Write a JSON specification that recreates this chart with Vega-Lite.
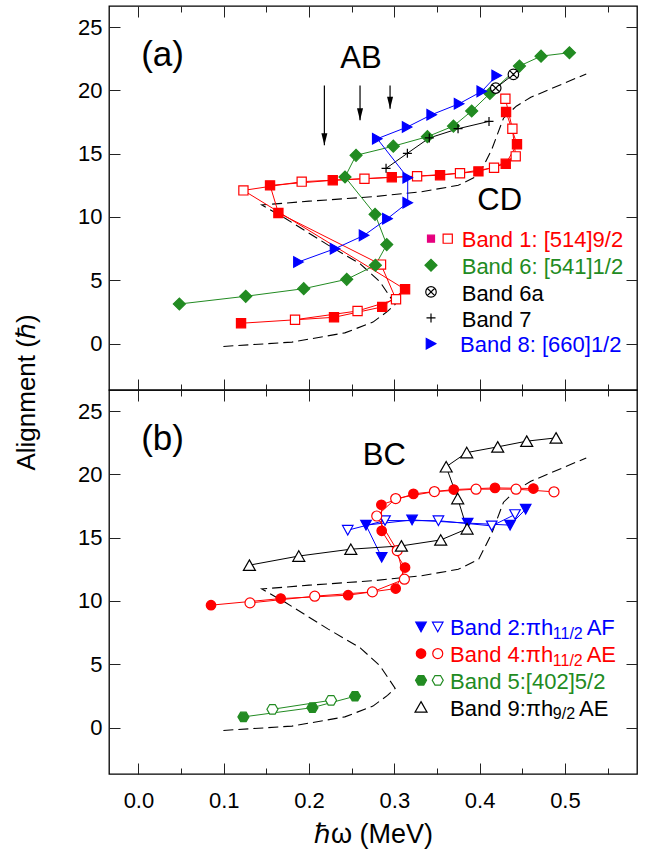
{
"$schema": "https://vega.github.io/schema/vega-lite/v6.json",
"padding": {"left": 12, "top": 4, "right": 4, "bottom": 4},
"spacing": 0,
"bounds": "flush",
"config": {
  "view": {"stroke": "#000", "strokeWidth": 1.3},
  "axis": {"grid": false, "domain": false, "tickColor": "#222", "tickWidth": 1, "labelFont": "Liberation Sans", "labelFontSize": 22, "labelColor": "#000", "labelFlush": false, "labelOverlap": false, "titleFont": "Liberation Sans", "titleFontSize": 26, "titleFontWeight": "normal", "titleColor": "#000"},
  "text": {"font": "Liberation Sans"}
},
"datasets": {
  "ref": [
    {"o":1,"x":0.0996,"y":-0.22},{"o":2,"x":0.18,"y":0.12},{"o":3,"x":0.242,"y":0.85},{"o":4,"x":0.275,"y":1.7},{"o":5,"x":0.292,"y":2.55},{"o":6,"x":0.301,"y":3.1},{"o":7,"x":0.283,"y":4.9},{"o":8,"x":0.26,"y":6.3},{"o":9,"x":0.222,"y":7.8},{"o":10,"x":0.172,"y":9.9},{"o":11,"x":0.1446,"y":10.95},{"o":12,"x":0.2,"y":11.25},{"o":13,"x":0.275,"y":11.6},{"o":14,"x":0.332,"y":12.0},{"o":15,"x":0.375,"y":12.5},{"o":16,"x":0.399,"y":13.3},{"o":17,"x":0.414,"y":15.3},{"o":18,"x":0.428,"y":17.8},{"o":19,"x":0.443,"y":18.75},{"o":20,"x":0.46,"y":19.45},{"o":21,"x":0.525,"y":21.3}
  ],
  "pts": [
    {"p":"a","b":"b1","s":"b1f","q":"a1A","o":1,"x":0.1203,"y":1.61},
    {"p":"a","b":"b1","s":"b1f","q":"a1A","o":2,"x":0.2293,"y":2.08},
    {"p":"a","b":"b1","s":"b1f","q":"a1A","o":3,"x":0.2858,"y":2.9},
    {"p":"a","b":"b1","s":"b1f","q":"a1A","o":4,"x":0.3126,"y":4.29},
    {"p":"a","b":"b1","s":"b1o","q":"a1A","o":5,"x":0.1231,"y":12.1},
    {"p":"a","b":"b1","s":"b1o","q":"a1A","o":6,"x":0.1914,"y":12.79},
    {"p":"a","b":"b1","s":"b1o","q":"a1A","o":7,"x":0.265,"y":13.02},
    {"p":"a","b":"b1","s":"b1o","q":"a1A","o":8,"x":0.3267,"y":13.22},
    {"p":"a","b":"b1","s":"b1o","q":"a1A","o":9,"x":0.377,"y":13.46},
    {"p":"a","b":"b1","s":"b1o","q":"a1A","o":10,"x":0.4169,"y":13.89},
    {"p":"a","b":"b1","s":"b1o","q":"a1A","o":11,"x":0.4423,"y":14.79},
    {"p":"a","b":"b1","s":"b1o","q":"a1A","o":12,"x":0.4384,"y":16.97},
    {"p":"a","b":"b1","s":"b1o","q":"a1A","o":13,"x":0.4302,"y":19.34},
    {"p":"a","b":"b1","s":"b1o","q":"a1B","o":1,"x":0.1836,"y":1.89},
    {"p":"a","b":"b1","s":"b1o","q":"a1B","o":2,"x":0.2569,"y":2.58},
    {"p":"a","b":"b1","s":"b1o","q":"a1B","o":3,"x":0.302,"y":3.5},
    {"p":"a","b":"b1","s":"b1o","q":"a1B","o":4,"x":0.2844,"y":6.24},
    {"p":"a","b":"b1","s":"b1f","q":"a1B","o":5,"x":0.1641,"y":10.32},
    {"p":"a","b":"b1","s":"b1f","q":"a1B","o":6,"x":0.1543,"y":12.5},
    {"p":"a","b":"b1","s":"b1f","q":"a1B","o":7,"x":0.2278,"y":12.9},
    {"p":"a","b":"b1","s":"b1f","q":"a1B","o":8,"x":0.297,"y":13.14},
    {"p":"a","b":"b1","s":"b1f","q":"a1B","o":9,"x":0.3536,"y":13.3},
    {"p":"a","b":"b1","s":"b1f","q":"a1B","o":10,"x":0.3986,"y":13.6},
    {"p":"a","b":"b1","s":"b1f","q":"a1B","o":11,"x":0.4306,"y":14.2},
    {"p":"a","b":"b1","s":"b1f","q":"a1B","o":12,"x":0.4438,"y":15.74},
    {"p":"a","b":"b1","s":"b1f","q":"a1B","o":13,"x":0.431,"y":18.29},
    {"p":"a","b":"b6","s":"b6","q":"a6","o":1,"x":0.048,"y":3.13},
    {"p":"a","b":"b6","s":"b6","q":"a6","o":2,"x":0.1258,"y":3.74},
    {"p":"a","b":"b6","s":"b6","q":"a6","o":3,"x":0.1938,"y":4.34},
    {"p":"a","b":"b6","s":"b6","q":"a6","o":4,"x":0.2442,"y":5.08},
    {"p":"a","b":"b6","s":"b6","q":"a6","o":5,"x":0.2778,"y":6.19},
    {"p":"a","b":"b6","s":"b6","q":"a6","o":6,"x":0.2911,"y":7.82},
    {"p":"a","b":"b6","s":"b6","q":"a6","o":7,"x":0.2774,"y":10.21},
    {"p":"a","b":"b6","s":"b6","q":"a6","o":8,"x":0.2422,"y":13.16},
    {"p":"a","b":"b6","s":"b6","q":"a6","o":9,"x":0.2551,"y":14.87},
    {"p":"a","b":"b6","s":"b6","q":"a6","o":10,"x":0.2988,"y":15.59},
    {"p":"a","b":"b6","s":"b6","q":"a6","o":11,"x":0.3388,"y":16.34},
    {"p":"a","b":"b6","s":"b6","q":"a6","o":12,"x":0.3693,"y":17.18},
    {"p":"a","b":"b6","s":"b6","q":"a6","o":13,"x":0.3907,"y":18.37},
    {"p":"a","b":"b6","s":"b6","q":"a6","o":14,"x":0.412,"y":19.75},
    {"p":"a","b":"b6","s":"b6","q":"a6","o":15,"x":0.4467,"y":21.92},
    {"p":"a","b":"b6","s":"b6","q":"a6","o":16,"x":0.472,"y":22.7},
    {"p":"a","b":"b6","s":"b6","q":"a6","o":17,"x":0.5053,"y":22.97},
    {"p":"a","b":"b6a","s":"b6a","q":"a6a","o":1,"x":0.4189,"y":20.18},
    {"p":"a","b":"b6a","s":"b6a","q":"a6a","o":2,"x":0.4396,"y":21.26},
    {"p":"a","b":"b7","s":"b7","q":"a7","o":1,"x":0.2903,"y":13.84},
    {"p":"a","b":"b7","s":"b7","q":"a7","o":2,"x":0.3153,"y":15.03},
    {"p":"a","b":"b7","s":"b7","q":"a7","o":3,"x":0.341,"y":16.24},
    {"p":"a","b":"b7","s":"b7","q":"a7","o":4,"x":0.3747,"y":16.97},
    {"p":"a","b":"b7","s":"b7","q":"a7","o":5,"x":0.411,"y":17.55},
    {"p":"a","b":"b8","s":"b8","q":"a8","o":1,"x":0.1876,"y":6.45},
    {"p":"a","b":"b8","s":"b8","q":"a8","o":2,"x":0.2305,"y":7.5},
    {"p":"a","b":"b8","s":"b8","q":"a8","o":3,"x":0.2645,"y":8.55},
    {"p":"a","b":"b8","s":"b8","q":"a8","o":4,"x":0.2919,"y":9.87},
    {"p":"a","b":"b8","s":"b8","q":"a8","o":5,"x":0.3157,"y":11.13},
    {"p":"a","b":"b8","s":"b8","q":"a8","o":6,"x":0.3157,"y":13.1},
    {"p":"a","b":"b8","s":"b8","q":"a8","o":7,"x":0.28,"y":16.18},
    {"p":"a","b":"b8","s":"b8","q":"a8","o":8,"x":0.315,"y":17.1},
    {"p":"a","b":"b8","s":"b8","q":"a8","o":9,"x":0.3438,"y":18.08},
    {"p":"a","b":"b8","s":"b8","q":"a8","o":10,"x":0.3759,"y":18.94},
    {"p":"a","b":"b8","s":"b8","q":"a8","o":11,"x":0.4025,"y":19.92},
    {"p":"a","b":"b8","s":"b8","q":"a8","o":12,"x":0.42,"y":21.18},
    {"p":"b","b":"b2","s":"b2f","q":"b2F","o":1,"x":0.2852,"y":13.45},
    {"p":"b","b":"b2","s":"b2f","q":"b2F","o":2,"x":0.2668,"y":15.99},
    {"p":"b","b":"b2","s":"b2f","q":"b2F","o":3,"x":0.3208,"y":16.4},
    {"p":"b","b":"b2","s":"b2f","q":"b2F","o":4,"x":0.386,"y":16.15},
    {"p":"b","b":"b2","s":"b2f","q":"b2F","o":5,"x":0.4357,"y":15.99},
    {"p":"b","b":"b2","s":"b2f","q":"b2F","o":6,"x":0.454,"y":17.25},
    {"p":"b","b":"b2","s":"b2o","q":"b2O","o":1,"x":0.2454,"y":15.59},
    {"p":"b","b":"b2","s":"b2o","q":"b2O","o":2,"x":0.2891,"y":16.35},
    {"p":"b","b":"b2","s":"b2o","q":"b2O","o":3,"x":0.3517,"y":16.34},
    {"p":"b","b":"b2","s":"b2o","q":"b2O","o":4,"x":0.4142,"y":15.93},
    {"p":"b","b":"b2","s":"b2o","q":"b2O","o":5,"x":0.4415,"y":16.83},
    {"p":"b","b":"b4","s":"b4f","q":"b4F","o":1,"x":0.0851,"y":9.67},
    {"p":"b","b":"b4","s":"b4f","q":"b4F","o":2,"x":0.1668,"y":10.19},
    {"p":"b","b":"b4","s":"b4f","q":"b4F","o":3,"x":0.2458,"y":10.46},
    {"p":"b","b":"b4","s":"b4f","q":"b4F","o":4,"x":0.3016,"y":10.98},
    {"p":"b","b":"b4","s":"b4f","q":"b4F","o":5,"x":0.3126,"y":12.64},
    {"p":"b","b":"b4","s":"b4f","q":"b4F","o":6,"x":0.2852,"y":15.54},
    {"p":"b","b":"b4","s":"b4f","q":"b4F","o":7,"x":0.2848,"y":17.6},
    {"p":"b","b":"b4","s":"b4f","q":"b4F","o":8,"x":0.3224,"y":18.46},
    {"p":"b","b":"b4","s":"b4f","q":"b4F","o":9,"x":0.3697,"y":18.8},
    {"p":"b","b":"b4","s":"b4f","q":"b4F","o":10,"x":0.418,"y":18.93},
    {"p":"b","b":"b4","s":"b4f","q":"b4F","o":11,"x":0.463,"y":18.88},
    {"p":"b","b":"b4","s":"b4o","q":"b4O","o":1,"x":0.1308,"y":9.85},
    {"p":"b","b":"b4","s":"b4o","q":"b4O","o":2,"x":0.2067,"y":10.38},
    {"p":"b","b":"b4","s":"b4o","q":"b4O","o":3,"x":0.2743,"y":10.72},
    {"p":"b","b":"b4","s":"b4o","q":"b4O","o":4,"x":0.3118,"y":11.72},
    {"p":"b","b":"b4","s":"b4o","q":"b4O","o":5,"x":0.3034,"y":13.98},
    {"p":"b","b":"b4","s":"b4o","q":"b4O","o":6,"x":0.2794,"y":16.71},
    {"p":"b","b":"b4","s":"b4o","q":"b4O","o":7,"x":0.3016,"y":18.09},
    {"p":"b","b":"b4","s":"b4o","q":"b4O","o":8,"x":0.347,"y":18.64},
    {"p":"b","b":"b4","s":"b4o","q":"b4O","o":9,"x":0.3958,"y":18.83},
    {"p":"b","b":"b4","s":"b4o","q":"b4O","o":10,"x":0.4427,"y":18.83},
    {"p":"b","b":"b4","s":"b4o","q":"b4O","o":11,"x":0.4872,"y":18.62},
    {"p":"b","b":"b5","s":"b5f","q":"b5F","o":1,"x":0.1231,"y":0.85},
    {"p":"b","b":"b5","s":"b5f","q":"b5F","o":2,"x":0.204,"y":1.58},
    {"p":"b","b":"b5","s":"b5f","q":"b5F","o":3,"x":0.2539,"y":2.48},
    {"p":"b","b":"b5","s":"b5o","q":"b5O","o":1,"x":0.1571,"y":1.45},
    {"p":"b","b":"b5","s":"b5o","q":"b5O","o":2,"x":0.2258,"y":2.16},
    {"p":"b","b":"b9","s":"b9","q":"b9","o":1,"x":0.1301,"y":12.83},
    {"p":"b","b":"b9","s":"b9","q":"b9","o":2,"x":0.188,"y":13.55},
    {"p":"b","b":"b9","s":"b9","q":"b9","o":3,"x":0.249,"y":14.09},
    {"p":"b","b":"b9","s":"b9","q":"b9","o":4,"x":0.3083,"y":14.35},
    {"p":"b","b":"b9","s":"b9","q":"b9","o":5,"x":0.3544,"y":14.82},
    {"p":"b","b":"b9","s":"b9","q":"b9","o":6,"x":0.3853,"y":15.7},
    {"p":"b","b":"b9","s":"b9","q":"b9","o":7,"x":0.3743,"y":18.09},
    {"p":"b","b":"b9","s":"b9","q":"b9","o":8,"x":0.3608,"y":20.6},
    {"p":"b","b":"b9","s":"b9","q":"b9","o":9,"x":0.3849,"y":21.72},
    {"p":"b","b":"b9","s":"b9","q":"b9","o":10,"x":0.4212,"y":22.17},
    {"p":"b","b":"b9","s":"b9","q":"b9","o":11,"x":0.4552,"y":22.62},
    {"p":"b","b":"b9","s":"b9","q":"b9","o":12,"x":0.4896,"y":22.88}
  ],
  "leg": [
    {"p":"a","s":"b1L","x":0.343,"y":8.29},{"p":"a","s":"b1o","x":0.3626,"y":8.29},
    {"p":"a","s":"b6","x":0.343,"y":6.19},{"p":"a","s":"b6a","x":0.343,"y":4.08},
    {"p":"a","s":"b7","x":0.343,"y":2.03},{"p":"a","s":"b8","x":0.343,"y":0.0},
    {"p":"b","s":"b2f","x":0.3313,"y":7.95},{"p":"b","s":"b2o","x":0.3509,"y":7.95},
    {"p":"b","s":"b4f","x":0.3313,"y":5.85},{"p":"b","s":"b4o","x":0.3509,"y":5.85},
    {"p":"b","s":"b5f","x":0.3313,"y":3.74},{"p":"b","s":"b5o","x":0.3509,"y":3.74},
    {"p":"b","s":"b9","x":0.3313,"y":1.64}
  ],
  "txt": [
    {"p":"a","k":"pl","b":"lab","x":0.0283,"y":22.76,"t":"(a)"},
    {"p":"a","k":"big","b":"lab","x":0.2608,"y":22.49,"t":"AB"},
    {"p":"a","k":"big","b":"lab","x":0.4236,"y":11.3,"t":"CD"},
    {"p":"a","k":"leg","b":"b1","x":0.379,"y":8.16,"t":"Band 1: [514]9/2"},
    {"p":"a","k":"leg","b":"b6","x":0.379,"y":6.03,"t":"Band 6: [541]1/2"},
    {"p":"a","k":"leg","b":"b6a","x":0.379,"y":3.95,"t":"Band 6a"},
    {"p":"a","k":"leg","b":"b7","x":0.379,"y":1.9,"t":"Band 7"},
    {"p":"a","k":"leg","b":"b8","x":0.377,"y":-0.13,"t":"Band 8: [660]1/2"},
    {"p":"b","k":"pl","b":"lab","x":0.0283,"y":22.83,"t":"(b)"},
    {"p":"b","k":"big","b":"lab","x":0.2882,"y":21.44,"t":"BC"},
    {"p":"b","k":"leg","b":"b2","x":0.3653,"y":7.83,"t":"Band 2:πh"},
    {"p":"b","k":"sub","b":"b2","x":0.4858,"y":7.36,"t":"11/2"},
    {"p":"b","k":"leg","b":"b2","x":0.5255,"y":7.83,"t":"AF"},
    {"p":"b","k":"leg","b":"b4","x":0.3653,"y":5.72,"t":"Band 4:πh"},
    {"p":"b","k":"sub","b":"b4","x":0.4858,"y":5.25,"t":"11/2"},
    {"p":"b","k":"leg","b":"b4","x":0.5255,"y":5.72,"t":"AE"},
    {"p":"b","k":"leg","b":"b5","x":0.3653,"y":3.62,"t":"Band 5:[402]5/2"},
    {"p":"b","k":"leg","b":"b9","x":0.3653,"y":1.51,"t":"Band 9:πh"},
    {"p":"b","k":"sub","b":"b9","x":0.4858,"y":1.04,"t":"9/2"},
    {"p":"b","k":"leg","b":"b9","x":0.5165,"y":1.51,"t":"AE"}
  ],
  "arr": [
    {"x":0.218,"y":20.39,"y2":15.66},
    {"x":0.2598,"y":20.39,"y2":17.63},
    {"x":0.295,"y":20.39,"y2":18.55}
  ]
},
"vconcat": [
{
  "width": 528, "height": 384,
  "resolve": {"axis": {"x": "independent", "y": "independent"}},
  "layer": [
    {"data": {"name": "ref"}, "mark": {"type": "line", "stroke": "#000", "strokeDash": [10,5], "strokeWidth": 1.1},
     "encoding": {
       "x": {"field": "x", "type": "quantitative", "scale": {"domain": [-0.0345, 0.5845], "nice": false, "zero": false},
             "axis": {"orient": "bottom", "values": [0,0.1,0.2,0.3,0.4,0.5], "tickSize": -11, "labels": false, "title": null}},
       "y": {"field": "y", "type": "quantitative", "scale": {"domain": [-3.66, 26.66], "nice": false, "zero": false},
             "axis": {"orient": "left", "values": [0,5,10,15,20,25], "tickSize": -11, "labelPadding": 18, "format": "d", "title": "Alignment (ℏ)", "titleX": -70, "titleY": 386, "titleAngle": -90, "titleBaseline": "bottom", "titleAlign": "center"}},
       "order": {"field": "o", "type": "quantitative"}}},
    {"data": {"name": "pts"}, "transform": [{"filter": "datum.p=='a'"}], "mark": {"type": "line", "strokeWidth": 1},
     "encoding": {
       "x": {"field": "x", "type": "quantitative", "axis": {"orient": "top", "values": [0,0.1,0.2,0.3,0.4,0.5], "tickSize": -11, "labels": false, "title": null}},
       "y": {"field": "y", "type": "quantitative", "axis": {"orient": "right", "values": [0,5,10,15,20,25], "tickSize": -11, "labels": false, "title": null}},
       "color": {"field": "b", "type": "nominal", "legend": null, "scale": {"domain": ["lab","b1","b2","b4","b5","b6","b6a","b7","b8","b9"], "range": ["#000000","#ff0000","#0000ff","#ff0000","#228b22","#228b22","#000000","#000000","#0000ff","#000000"]}},
       "detail": {"field": "q"},
       "order": {"field": "o", "type": "quantitative"}}},
    {"data": {"name": "pts"}, "transform": [{"filter": "datum.p=='a'"}], "mark": {"type": "point", "size": 100, "strokeWidth": 1.2, "opacity": 1},
     "encoding": {
       "x": {"field": "x", "type": "quantitative", "axis": {"orient": "bottom", "values": [0.05,0.15,0.25,0.35,0.45,0.55], "tickSize": -6, "labels": false, "title": null}},
       "y": {"field": "y", "type": "quantitative", "axis": null},
       "shape": {"field": "s", "type": "nominal", "legend": null, "scale": {"domain": ["b1f","b1o","b1L","b6","b6a","b7","b8","b2f","b2o","b4f","b4o","b5f","b5o","b9"], "range": ["M-0.92,-0.92L0.92,-0.92L0.92,0.92L-0.92,0.92Z","M-0.92,-0.92L0.92,-0.92L0.92,0.92L-0.92,0.92Z","M-0.7,-0.7L0.7,-0.7L0.7,0.7L-0.7,0.7Z","M-1.2,0L0,-1.2L1.2,0L0,1.2Z","M1.05,0A1.05,1.05,0,1,1,-1.05,0A1.05,1.05,0,1,1,1.05,0ZM-0.74,-0.74L0.74,0.74M-0.74,0.74L0.74,-0.74","M-0.9,0L0.9,0M0,-0.9L0,0.9","M0.95,0L-0.95,-1.05L-0.95,1.05Z","M-1.05,-0.95L1.05,-0.95L0,0.95Z","M-1.05,-0.95L1.05,-0.95L0,0.95Z","M0.95,0A0.95,0.95,0,1,1,-0.95,0A0.95,0.95,0,1,1,0.95,0Z","M1,0A1,1,0,1,1,-1,0A1,1,0,1,1,1,0Z","M-1.1,0L-0.55,-0.95L0.55,-0.95L1.1,0L0.55,0.95L-0.55,0.95Z","M-1.1,0L-0.55,-0.95L0.55,-0.95L1.1,0L0.55,0.95L-0.55,0.95Z","M0,-1.05L1.2,1.05L-1.2,1.05Z"]}},
       "fill": {"field": "s", "type": "nominal", "legend": null, "scale": {"domain": ["b1f","b1o","b1L","b6","b6a","b7","b8","b2f","b2o","b4f","b4o","b5f","b5o","b9"], "range": ["#ff0000","#ffffff","#e6007e","#228b22","#ffffff","transparent","#0000ff","#0000ff","#ffffff","#ff0000","#ffffff","#228b22","#ffffff","#ffffff"]}},
       "stroke": {"field": "s", "type": "nominal", "legend": null, "scale": {"domain": ["b1f","b1o","b1L","b6","b6a","b7","b8","b2f","b2o","b4f","b4o","b5f","b5o","b9"], "range": ["#ff0000","#ff0000","#e6007e","#228b22","#000000","#000000","#0000ff","#0000ff","#0000ff","#ff0000","#ff0000","#228b22","#228b22","#000000"]}}}},
    {"data": {"name": "leg"}, "transform": [{"filter": "datum.p=='a'"}], "mark": {"type": "point", "size": 100, "strokeWidth": 1.2, "opacity": 1},
     "encoding": {
       "x": {"field": "x", "type": "quantitative", "axis": {"orient": "top", "values": [0.05,0.15,0.25,0.35,0.45,0.55], "tickSize": -6, "labels": false, "title": null}},
       "y": {"field": "y", "type": "quantitative", "axis": null},
       "shape": {"field": "s", "type": "nominal", "legend": null},
       "fill": {"field": "s", "type": "nominal", "legend": null},
       "stroke": {"field": "s", "type": "nominal", "legend": null}}},
    {"data": {"name": "txt"}, "transform": [{"filter": "datum.p=='a' && datum.k=='pl'"}], "mark": {"type": "text", "fontSize": 35, "align": "center", "baseline": "middle"},
     "encoding": {"x": {"field": "x", "type": "quantitative", "axis": null}, "y": {"field": "y", "type": "quantitative", "axis": null}, "text": {"field": "t"}, "color": {"field": "b", "type": "nominal", "legend": null}}},
    {"data": {"name": "txt"}, "transform": [{"filter": "datum.p=='a' && datum.k=='big'"}], "mark": {"type": "text", "fontSize": 31, "align": "center", "baseline": "middle"},
     "encoding": {"x": {"field": "x", "type": "quantitative", "axis": null}, "y": {"field": "y", "type": "quantitative", "axis": null}, "text": {"field": "t"}, "color": {"field": "b", "type": "nominal", "legend": null}}},
    {"data": {"name": "txt"}, "transform": [{"filter": "datum.p=='a' && datum.k=='leg'"}], "mark": {"type": "text", "fontSize": 22, "align": "left", "baseline": "middle"},
     "encoding": {"x": {"field": "x", "type": "quantitative", "axis": null}, "y": {"field": "y", "type": "quantitative", "axis": null}, "text": {"field": "t"}, "color": {"field": "b", "type": "nominal", "legend": null}}},
    {"data": {"name": "arr"}, "mark": {"type": "rule", "stroke": "#000", "strokeWidth": 1.2},
     "encoding": {"x": {"field": "x", "type": "quantitative", "axis": null}, "y": {"field": "y", "type": "quantitative", "axis": null}, "y2": {"field": "y2"}}},
    {"data": {"name": "arr"}, "mark": {"type": "point", "shape": "M0,0L-0.5,-2L0.5,-2Z", "size": 144, "filled": true, "color": "#000", "opacity": 1},
     "encoding": {"x": {"field": "x", "type": "quantitative", "axis": null}, "y": {"field": "y2", "type": "quantitative", "axis": null}}}
  ]
},
{
  "width": 528, "height": 384,
  "resolve": {"axis": {"x": "independent", "y": "independent"}},
  "layer": [
    {"data": {"name": "ref"}, "mark": {"type": "line", "stroke": "#000", "strokeDash": [10,5], "strokeWidth": 1.1},
     "encoding": {
       "x": {"field": "x", "type": "quantitative", "scale": {"domain": [-0.0345, 0.5845], "nice": false, "zero": false},
             "axis": {"orient": "bottom", "values": [0,0.1,0.2,0.3,0.4,0.5], "tickSize": -11, "labelPadding": 27, "format": ".1f", "title": "ℏω (MeV)", "titleY": 47, "titleBaseline": "top", "titleFontSize": 27}},
       "y": {"field": "y", "type": "quantitative", "scale": {"domain": [-3.66, 26.66], "nice": false, "zero": false},
             "axis": {"orient": "left", "values": [0,5,10,15,20,25], "tickSize": -11, "labelPadding": 18, "format": "d", "title": null}},
       "order": {"field": "o", "type": "quantitative"}}},
    {"data": {"name": "pts"}, "transform": [{"filter": "datum.p=='b'"}], "mark": {"type": "line", "strokeWidth": 1},
     "encoding": {
       "x": {"field": "x", "type": "quantitative", "axis": {"orient": "top", "values": [0,0.1,0.2,0.3,0.4,0.5], "tickSize": -11, "labels": false, "title": null}},
       "y": {"field": "y", "type": "quantitative", "axis": {"orient": "right", "values": [0,5,10,15,20,25], "tickSize": -11, "labels": false, "title": null}},
       "color": {"field": "b", "type": "nominal", "legend": null},
       "detail": {"field": "q"},
       "order": {"field": "o", "type": "quantitative"}}},
    {"data": {"name": "pts"}, "transform": [{"filter": "datum.p=='b'"}], "mark": {"type": "point", "size": 100, "strokeWidth": 1.2, "opacity": 1},
     "encoding": {
       "x": {"field": "x", "type": "quantitative", "axis": {"orient": "bottom", "values": [0.05,0.15,0.25,0.35,0.45,0.55], "tickSize": -6, "labels": false, "title": null}},
       "y": {"field": "y", "type": "quantitative", "axis": null},
       "shape": {"field": "s", "type": "nominal", "legend": null},
       "fill": {"field": "s", "type": "nominal", "legend": null},
       "stroke": {"field": "s", "type": "nominal", "legend": null}}},
    {"data": {"name": "leg"}, "transform": [{"filter": "datum.p=='b'"}], "mark": {"type": "point", "size": 100, "strokeWidth": 1.2, "opacity": 1},
     "encoding": {
       "x": {"field": "x", "type": "quantitative", "axis": {"orient": "top", "values": [0.05,0.15,0.25,0.35,0.45,0.55], "tickSize": -6, "labels": false, "title": null}},
       "y": {"field": "y", "type": "quantitative", "axis": null},
       "shape": {"field": "s", "type": "nominal", "legend": null},
       "fill": {"field": "s", "type": "nominal", "legend": null},
       "stroke": {"field": "s", "type": "nominal", "legend": null}}},
    {"data": {"name": "txt"}, "transform": [{"filter": "datum.p=='b' && datum.k=='pl'"}], "mark": {"type": "text", "fontSize": 35, "align": "center", "baseline": "middle"},
     "encoding": {"x": {"field": "x", "type": "quantitative", "axis": null}, "y": {"field": "y", "type": "quantitative", "axis": null}, "text": {"field": "t"}, "color": {"field": "b", "type": "nominal", "legend": null}}},
    {"data": {"name": "txt"}, "transform": [{"filter": "datum.p=='b' && datum.k=='big'"}], "mark": {"type": "text", "fontSize": 31, "align": "center", "baseline": "middle"},
     "encoding": {"x": {"field": "x", "type": "quantitative", "axis": null}, "y": {"field": "y", "type": "quantitative", "axis": null}, "text": {"field": "t"}, "color": {"field": "b", "type": "nominal", "legend": null}}},
    {"data": {"name": "txt"}, "transform": [{"filter": "datum.p=='b' && datum.k=='leg'"}], "mark": {"type": "text", "fontSize": 22, "align": "left", "baseline": "middle"},
     "encoding": {"x": {"field": "x", "type": "quantitative", "axis": null}, "y": {"field": "y", "type": "quantitative", "axis": null}, "text": {"field": "t"}, "color": {"field": "b", "type": "nominal", "legend": null}}},
    {"data": {"name": "txt"}, "transform": [{"filter": "datum.p=='b' && datum.k=='sub'"}], "mark": {"type": "text", "fontSize": 16, "align": "left", "baseline": "middle"},
     "encoding": {"x": {"field": "x", "type": "quantitative", "axis": null}, "y": {"field": "y", "type": "quantitative", "axis": null}, "text": {"field": "t"}, "color": {"field": "b", "type": "nominal", "legend": null}}}
  ]
}
]
}
